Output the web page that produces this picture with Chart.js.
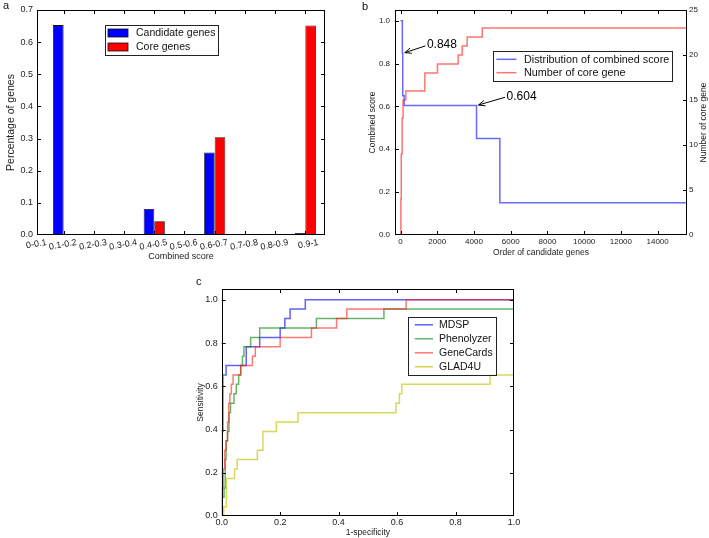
<!DOCTYPE html>
<html lang="en">
<head>
<meta charset="UTF-8">
<title>Combined score, core genes and ROC comparison</title>
<script src="https://cdn.jsdelivr.net/npm/chart.js"></script>
<style>
  html, body { margin: 0; padding: 0; background: #fff; }
  #page { position: relative; width: 709px; height: 538px; overflow: hidden; font-family: "Liberation Sans", Arial, sans-serif; }
  .panel { position: absolute; }
  .tag { position: absolute; font-size: 11px; line-height: 12px; color: #111; }
</style>
</head>
<body>
<div id="page">
  <div class="panel" style="left:0;top:0;width:345px;height:265px"><canvas id="chartA"></canvas></div>
  <div class="panel" style="left:350px;top:0;width:359px;height:265px"><canvas id="chartB"></canvas></div>
  <div class="panel" style="left:170px;top:270px;width:360px;height:268px"><canvas id="chartC"></canvas></div>
  <div class="tag" style="left:3px;top:-1px">a</div>
  <div class="tag" style="left:362px;top:0px">b</div>
  <div class="tag" style="left:196px;top:275px">c</div>
</div>

<script>
// panel a - share of genes per score bin
const binLabels = ['0-0.1', '0.1-0.2', '0.2-0.3', '0.3-0.4', '0.4-0.5', '0.5-0.6', '0.6-0.7', '0.7-0.8', '0.8-0.9', '0.9-1'];
const candidateShare = [0, 0.653, 0, 0, 0.081, 0, 0.257, 0, 0.002, 0.006];
const coreShare = [0, 0, 0, 0, 0.043, 0, 0.304, 0, 0, 0.652];
const shareTicks = [0, 0.1, 0.2, 0.3, 0.4, 0.5, 0.6, 0.7];

// panel b - sorted combined score and cumulative core genes
const scoreOrder = [0, 100, 120, 200, 4140, 5410, 15600];
const scoreValue = [1.0, 0.848, 0.65, 0.604, 0.45, 0.15, 0.15];
const coreOrder = [0, 20, 40, 90, 140, 290, 1325, 2015, 3140, 3360, 3630, 4450, 15600];
const coreCount = [0, 4, 9, 13, 15, 16, 18, 19, 20, 21, 22, 23, 23];
const orderTicks = [0, 2000, 4000, 6000, 8000, 10000, 12000, 14000];
const scoreTicks = [0, 0.2, 0.4, 0.6, 0.8, 1.0];
const countTicks = [0, 5, 10, 15, 20, 25];
const calloutText = ['0.848', '0.604'];
const calloutOrder = [130, 4140];
const calloutScore = [0.848, 0.604];

// panel c - ROC curves
const rocMethods = ['MDSP', 'Phenolyzer', 'GeneCards', 'GLAD4U'];
const mdspFpr = [0, 0.002, 0.004, 0.015, 0.084, 0.13, 0.2, 0.216, 0.234, 0.286, 1.0];
const mdspTpr = [0, 0.391, 0.652, 0.696, 0.783, 0.826, 0.870, 0.913, 0.957, 1.0, 1.0];
const phenoFpr = [0, 0.002, 0.008, 0.012, 0.015, 0.02, 0.025, 0.03, 0.042, 0.05, 0.058, 0.065, 0.071, 0.076, 0.099, 0.13, 0.324, 0.555, 1.0];
const phenoTpr = [0, 0.087, 0.130, 0.261, 0.348, 0.391, 0.478, 0.522, 0.565, 0.609, 0.652, 0.696, 0.739, 0.783, 0.826, 0.870, 0.913, 0.957, 0.957];
const cardsFpr = [0, 0.002, 0.005, 0.01, 0.015, 0.02, 0.024, 0.028, 0.033, 0.039, 0.065, 0.105, 0.115, 0.2, 0.307, 0.393, 0.428, 0.631, 1.0];
const cardsTpr = [0, 0.130, 0.217, 0.304, 0.348, 0.435, 0.522, 0.565, 0.609, 0.652, 0.696, 0.739, 0.783, 0.826, 0.870, 0.913, 0.957, 1.0, 1.0];
const gladFpr = [0, 0.007, 0.016, 0.044, 0.053, 0.122, 0.141, 0.187, 0.261, 0.596, 0.608, 0.616, 0.918, 1.0];
const gladTpr = [0, 0.043, 0.174, 0.217, 0.261, 0.304, 0.391, 0.435, 0.478, 0.522, 0.565, 0.609, 0.652, 0.652];
const rateTicks = [0, 0.2, 0.4, 0.6, 0.8, 1.0];

const FONT = '"Liberation Sans", Arial, sans-serif';
Chart.defaults.font.family = FONT;
Chart.defaults.color = '#1a1a1a';

function points(xs, ys) {
  return xs.map((x, i) => ({ x: x, y: ys[i] }));
}
function fixedTicks(values) {
  return scale => { scale.ticks = values.map(v => ({ value: v })); };
}

// box round the plot area plus inward tick marks, like matplotlib
const framePlugin = {
  id: 'frame',
  afterDatasetsDraw(chart, args, opts) {
    const ctx = chart.ctx, a = chart.chartArea;
    ctx.save();
    ctx.strokeStyle = '#000';
    ctx.lineWidth = 1;
    ctx.strokeRect(Math.round(a.left) + 0.5, Math.round(a.top) + 0.5,
      Math.round(a.right - a.left) - 1, Math.round(a.bottom - a.top) - 1);
    (opts.marks || []).forEach(m => {
      const s = chart.scales[m.scale];
      s.ticks.forEach(t => {
        const p = Math.round(s.getPixelForValue(t.value)) + 0.5;
        ctx.beginPath();
        if (s.isHorizontal()) {
          if (p < a.left + 1 || p > a.right - 1) return;
          m.sides.forEach(side => {
            const y0 = side === 'bottom' ? a.bottom : a.top;
            const d = side === 'bottom' ? -4 : 4;
            ctx.moveTo(p, y0); ctx.lineTo(p, y0 + d);
          });
        } else {
          if (p < a.top + 1 || p > a.bottom - 1) return;
          m.sides.forEach(side => {
            const x0 = side === 'left' ? a.left : a.right;
            const d = side === 'left' ? 4 : -4;
            ctx.moveTo(x0, p); ctx.lineTo(x0 + d, p);
          });
        }
        ctx.stroke();
      });
    });
    ctx.restore();
  }
};

// framed legend placed inside the plot area
const boxLegendPlugin = {
  id: 'boxLegend',
  afterDraw(chart, args, o) {
    if (!o.size) return;
    const ctx = chart.ctx, a = chart.chartArea;
    ctx.save();
    ctx.font = o.size + 'px ' + FONT;
    const items = chart.data.datasets.map(d => ({
      text: d.label,
      color: o.swatch === 'rect' ? d.backgroundColor : d.borderColor
    }));
    const textW = Math.max(...items.map(it => ctx.measureText(it.text).width));
    const w = o.padX + o.swatchW + o.gap + textW + 3;
    const h = o.padY * 2 + o.rowH * items.length;
    const x = Math.round(a.left + o.x * (a.right - a.left));
    const y = Math.round(a.top + o.y * (a.bottom - a.top));
    ctx.fillStyle = '#fff';
    ctx.fillRect(x, y, w, h);
    ctx.strokeStyle = '#222';
    ctx.lineWidth = 1;
    ctx.strokeRect(x + 0.5, y + 0.5, Math.round(w), Math.round(h));
    ctx.textBaseline = 'middle';
    items.forEach((it, k) => {
      const cy = y + o.padY + o.rowH * (k + 0.5);
      const sx = x + o.padX;
      if (o.swatch === 'rect') {
        ctx.fillStyle = it.color;
        ctx.fillRect(sx, cy - 4, o.swatchW, 8);
        ctx.strokeStyle = '#111';
        ctx.lineWidth = 0.8;
        ctx.strokeRect(sx, cy - 4, o.swatchW, 8);
      } else {
        ctx.strokeStyle = it.color;
        ctx.lineWidth = 1.5;
        ctx.beginPath();
        ctx.moveTo(sx, cy); ctx.lineTo(sx + o.swatchW, cy);
        ctx.stroke();
      }
      ctx.fillStyle = '#111';
      ctx.fillText(it.text, sx + o.swatchW + o.gap, cy + 0.5);
    });
    ctx.restore();
  }
};

// text with an open arrow pointing at a data point
const calloutPlugin = {
  id: 'callouts',
  afterDatasetsDraw(chart, args, o) {
    if (!o.items) return;
    const ctx = chart.ctx, xs = chart.scales.x, ys = chart.scales.y;
    ctx.save();
    ctx.font = o.size + 'px ' + FONT;
    ctx.fillStyle = '#000';
    ctx.strokeStyle = '#000';
    ctx.lineWidth = 1;
    ctx.textBaseline = 'middle';
    o.items.forEach(it => {
      const px = xs.getPixelForValue(it.x), py = ys.getPixelForValue(it.y);
      const tx = px + o.dx[it.i], ty = py + o.dy[it.i];
      ctx.fillText(it.label, tx, ty);
      const sx = tx - 1.5, sy = ty + 1;
      const ang = Math.atan2(py - sy, px - sx);
      const ex = px - Math.cos(ang) * 2, ey = py - Math.sin(ang) * 2;
      ctx.beginPath();
      ctx.moveTo(sx, sy); ctx.lineTo(ex, ey);
      ctx.moveTo(ex - Math.cos(ang - 0.4) * 7, ey - Math.sin(ang - 0.4) * 7);
      ctx.lineTo(ex, ey);
      ctx.lineTo(ex - Math.cos(ang + 0.4) * 7, ey - Math.sin(ang + 0.4) * 7);
      ctx.stroke();
    });
    ctx.restore();
  }
};

// right-hand axis title reading bottom to top
const sideTitlePlugin = {
  id: 'sideTitle',
  afterDraw(chart, args, o) {
    if (!o.text) return;
    const ctx = chart.ctx, s = chart.scales[o.scale];
    ctx.save();
    ctx.font = o.size + 'px ' + FONT;
    ctx.fillStyle = '#1a1a1a';
    ctx.translate(s.right - o.inset, (s.top + s.bottom) / 2);
    ctx.rotate(-Math.PI / 2);
    ctx.textAlign = 'center';
    ctx.textBaseline = 'middle';
    ctx.fillText(o.text, 0, 0);
    ctx.restore();
  }
};

const noGrid = { display: false, drawTicks: false };
const noBorder = { display: false };

// ---- panel a ----
new Chart(document.getElementById('chartA'), {
  type: 'bar',
  data: {
    datasets: [
      {
        label: 'Candidate genes',
        data: points(binLabels.map((b, i) => i + 0.35), candidateShare),
        backgroundColor: '#0000ff',
        borderColor: '#111',
        borderWidth: 0.8,
        categoryPercentage: 0.7,
        barPercentage: 1.0
      },
      {
        label: 'Core genes',
        data: points(binLabels.map((b, i) => i + 0.35), coreShare),
        backgroundColor: '#ff0000',
        borderColor: '#111',
        borderWidth: 0.8,
        categoryPercentage: 0.7,
        barPercentage: 1.0
      }
    ]
  },
  options: {
    responsive: true,
    maintainAspectRatio: false,
    animation: false,
    layout: { padding: { left: 0, top: 10, right: 20, bottom: 0 } },
    scales: {
      x: {
        type: 'linear', min: 0.47, max: 10.0, offset: false,
        grid: { display: false, drawTicks: false, offset: false }, border: noBorder,
        afterBuildTicks: fixedTicks(binLabels.map((b, i) => i + 0.35)),
        afterFit: s => { s.height = 30; },
        ticks: {
          callback: (v, i) => binLabels[i],
          autoSkip: false, minRotation: 10, maxRotation: 10,
          labelOffset: 13, padding: 2, font: { size: 9 }
        },
        title: { display: true, text: 'Combined score', font: { size: 9 }, padding: { top: 0, bottom: 3 } }
      },
      y: {
        min: 0, max: 0.7,
        grid: noGrid, border: noBorder,
        afterBuildTicks: fixedTicks(shareTicks),
        afterFit: s => { s.width = 37; },
        ticks: { callback: v => v.toFixed(1), padding: 4, font: { size: 9 } },
        title: { display: true, text: 'Percentage of genes', font: { size: 10.5 }, padding: { top: 5, bottom: 0 } }
      }
    },
    plugins: {
      legend: { display: false },
      tooltip: { enabled: false },
      frame: { marks: [{ scale: 'x', sides: ['bottom', 'top'] }, { scale: 'y', sides: ['left', 'right'] }] },
      boxLegend: { size: 10.5, swatch: 'rect', x: 0.236, y: 0.067, padX: 3, padY: 1, rowH: 14, swatchW: 20, gap: 8 }
    }
  },
  plugins: [framePlugin, boxLegendPlugin]
});

// ---- panel b ----
new Chart(document.getElementById('chartB'), {
  type: 'line',
  data: {
    datasets: [
      {
        label: 'Distribution of combined score',
        data: points(scoreOrder, scoreValue),
        yAxisID: 'y',
        borderColor: 'rgba(40, 40, 255, 0.7)',
        borderWidth: 1.5,
        pointRadius: 0,
        stepped: 'before',
        order: 1
      },
      {
        label: 'Number of core gene',
        data: points(coreOrder, coreCount),
        yAxisID: 'y2',
        borderColor: 'rgba(255, 40, 40, 0.65)',
        borderWidth: 1.5,
        pointRadius: 0,
        stepped: 'before',
        order: 0
      }
    ]
  },
  options: {
    responsive: true,
    maintainAspectRatio: false,
    animation: false,
    layout: { padding: { left: 0, top: 10, right: 0, bottom: 0 } },
    scales: {
      x: {
        type: 'linear', min: -300, max: 15600,
        grid: noGrid, border: noBorder,
        afterBuildTicks: fixedTicks(orderTicks),
        afterFit: s => { s.height = 30; },
        ticks: { callback: v => String(v), autoSkip: false, maxRotation: 0, padding: 2, font: { size: 8 } },
        title: { display: true, text: 'Order of candidate genes', font: { size: 8.5 }, padding: { top: 0, bottom: 7 } }
      },
      y: {
        position: 'left', min: 0, max: 1.05,
        grid: noGrid, border: noBorder,
        afterBuildTicks: fixedTicks(scoreTicks),
        afterFit: s => { s.width = 45; },
        ticks: { callback: v => v.toFixed(1), padding: 5, font: { size: 8 } },
        title: { display: true, text: 'Combined score', font: { size: 8.5 }, padding: { top: 18, bottom: 0 } }
      },
      y2: {
        position: 'right', min: 0, max: 25,
        grid: noGrid, border: noBorder,
        afterBuildTicks: fixedTicks(countTicks),
        afterFit: s => { s.width = 22; },
        ticks: { callback: v => String(v), padding: 2, font: { size: 8 } }
      }
    },
    plugins: {
      legend: { display: false },
      tooltip: { enabled: false },
      frame: { marks: [{ scale: 'x', sides: ['bottom', 'top'] }, { scale: 'y', sides: ['left'] }, { scale: 'y2', sides: ['right'] }] },
      boxLegend: { size: 10.8, swatch: 'line', x: 0.337, y: 0.182, padX: 3.4, padY: 1.6, rowH: 13.4, swatchW: 20, gap: 7.6 },
      callouts: {
        size: 12,
        dx: [24, 30],
        dy: [-8.4, -9.3],
        items: calloutText.map((t, i) => ({ i: i, label: t, x: calloutOrder[i], y: calloutScore[i] }))
      },
      sideTitle: { text: 'Number of core gene', scale: 'y2', inset: 5.7, size: 8.5 }
    }
  },
  plugins: [framePlugin, boxLegendPlugin, calloutPlugin, sideTitlePlugin]
});

// ---- panel c ----
const rocColors = ['rgba(30, 30, 255, 0.7)', 'rgba(0, 128, 0, 0.6)', 'rgba(255, 30, 30, 0.6)', 'rgba(200, 200, 20, 0.7)'];
const rocPoints = [points(mdspFpr, mdspTpr), points(phenoFpr, phenoTpr), points(cardsFpr, cardsTpr), points(gladFpr, gladTpr)];

new Chart(document.getElementById('chartC'), {
  type: 'line',
  data: {
    datasets: rocMethods.map((m, i) => ({
      label: m,
      data: rocPoints[i],
      borderColor: rocColors[i],
      borderWidth: 1.5,
      pointRadius: 0,
      stepped: 'before',
      order: -i
    }))
  },
  options: {
    responsive: true,
    maintainAspectRatio: false,
    animation: false,
    layout: { padding: { left: 0, top: 19, right: 16, bottom: 0 } },
    scales: {
      x: {
        type: 'linear', min: 0, max: 1,
        grid: noGrid, border: noBorder,
        afterBuildTicks: fixedTicks(rateTicks),
        afterFit: s => { s.height = 22; },
        ticks: { callback: v => v.toFixed(1), autoSkip: false, maxRotation: 0, padding: 1, font: { size: 9 } },
        title: { display: true, text: '1-specificity', font: { size: 8.5 }, padding: { top: 0, bottom: 0 } }
      },
      y: {
        min: 0, max: 1.05,
        grid: noGrid, border: noBorder,
        afterBuildTicks: fixedTicks(rateTicks),
        afterFit: s => { s.width = 51.7; },
        ticks: { callback: v => v.toFixed(1), padding: 4, font: { size: 9 } },
        title: { display: true, text: 'Sensitivity', font: { size: 8.5 }, padding: { top: 26, bottom: 0 } }
      }
    },
    plugins: {
      legend: { display: false },
      tooltip: { enabled: false },
      frame: { marks: [{ scale: 'x', sides: ['bottom', 'top'] }, { scale: 'y', sides: ['left', 'right'] }] },
      boxLegend: { size: 10.5, swatch: 'line', x: 0.638, y: 0.122, padX: 6.7, padY: 0.8, rowH: 14, swatchW: 18.3, gap: 6 }
    }
  },
  plugins: [framePlugin, boxLegendPlugin]
});
</script>
</body>
</html>
